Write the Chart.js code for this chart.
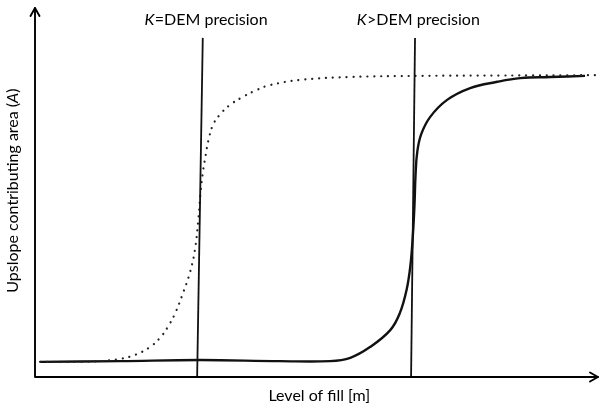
<!DOCTYPE html>
<html>
<head>
<meta charset="utf-8">
<script src="https://cdn.jsdelivr.net/npm/chart.js@4"></script>
<style>
  html, body { margin: 0; padding: 0; background: #fff; }
  #wrap { width: 601px; height: 410px; }
</style>
</head>
<body>
<div id="wrap"><canvas id="fillChart" width="601" height="410"></canvas></div>
<script>
// level of fill (x) and upslope area (y), both on a 0-100 schematic scale
const solidFill = [0.9, 15.1, 29.3, 43.5, 52.4, 56.0, 59.5, 63.1, 64.8, 66.0, 66.7, 67.1, 67.4, 67.6, 67.9, 68.6, 70.2, 73.2, 77.3, 82.1, 86.2, 91.5, 97.7];
const solidArea = [4.1, 4.3, 4.6, 4.3, 4.3, 5.2, 8.1, 12.7, 17.3, 23.6, 30.5, 38.0, 46.5, 55.0, 61.0, 65.8, 70.5, 75.1, 78.3, 80.0, 81.0, 81.3, 81.6];

const dottedFill = [0.9, 8.0, 11.6, 15.1, 17.8, 20.4, 22.2, 23.6, 24.9, 26.3, 27.5, 28.4, 29.0, 29.4, 29.8, 30.3, 30.9, 31.7, 32.9, 34.6, 36.9, 39.4, 41.7, 47.1, 56.0, 68.4, 82.6, 100];
const dottedArea = [4.1, 4.1, 4.3, 4.9, 6.0, 8.1, 10.6, 13.6, 17.3, 22.8, 28.2, 34.4, 42.6, 49.9, 55.3, 60.0, 64.8, 68.6, 71.2, 73.7, 75.9, 77.8, 79.1, 80.5, 81.3, 81.6, 81.7, 81.8];

// the two threshold lines: [bottom, top]
const equalFill = [28.8, 29.8];
const greaterFill = [66.8, 67.5];
const lineArea = [0, 91.9];

const thresholdLabels = [['K', '=DEM precision'], ['K', '>DEM precision']];
const xTitle = 'Level of fill [m]';
const yTitle = ['Upslope contributing area (', 'A', ')'];

const FONT = 'Lato, "Open Sans", sans-serif';

function toPoints(xs, ys) {
    return xs.map((x, i) => ({ x: x, y: ys[i] }));
}

// axes with open arrowheads, threshold labels and axis titles
const schematicAxes = {
    id: 'schematicAxes',
    afterDraw(chart) {
        const ctx = chart.ctx;
        const xs = chart.scales.x;
        const ys = chart.scales.y;
        const x0 = xs.getPixelForValue(0);
        const x1 = xs.getPixelForValue(100);
        const y0 = ys.getPixelForValue(0);
        const y1 = ys.getPixelForValue(100);

        ctx.save();
        ctx.strokeStyle = '#000';
        ctx.lineWidth = 1.9;
        ctx.lineCap = 'round';
        ctx.lineJoin = 'round';
        ctx.beginPath();
        ctx.moveTo(x0, y1);
        ctx.lineTo(x0, y0);
        ctx.lineTo(x1, y0);
        ctx.stroke();

        // arrowheads
        ctx.beginPath();
        ctx.moveTo(x0 - 4.5, y1 + 8);
        ctx.lineTo(x0, y1);
        ctx.lineTo(x0 + 4.5, y1 + 8);
        ctx.moveTo(x1 - 8, y0 - 4.5);
        ctx.lineTo(x1, y0);
        ctx.lineTo(x1 - 8, y0 + 4.5);
        ctx.stroke();

        ctx.fillStyle = '#000';
        ctx.textBaseline = 'alphabetic';

        // labels above the threshold lines
        const tops = [equalFill[1], greaterFill[1]];
        thresholdLabels.forEach((parts, i) => {
            ctx.font = 'italic 16px ' + FONT;
            const wK = ctx.measureText(parts[0]).width;
            ctx.font = '16px ' + FONT;
            const wRest = ctx.measureText(parts[1]).width;
            const cx = xs.getPixelForValue(tops[i]) + 3;
            const left = cx - (wK + wRest) / 2;
            const base = ys.getPixelForValue(lineArea[1]) - 13;
            ctx.font = 'italic 16px ' + FONT;
            ctx.fillText(parts[0], left, base);
            ctx.font = '16px ' + FONT;
            ctx.fillText(parts[1], left + wK + 0.5, base);
        });

        // x axis title
        ctx.font = '16px ' + FONT;
        ctx.textAlign = 'center';
        ctx.fillText(xTitle, xs.getPixelForValue(50.5), y0 + 24);

        // y axis title, rotated
        ctx.translate(x0 - 17, ys.getPixelForValue(50.5));
        ctx.rotate(-Math.PI / 2);
        ctx.textAlign = 'left';
        const widths = yTitle.map((t, i) => {
            ctx.font = (i === 1 ? 'italic ' : '') + '16px ' + FONT;
            return ctx.measureText(t).width;
        });
        let pos = -widths.reduce((a, b) => a + b, 0) / 2;
        yTitle.forEach((t, i) => {
            ctx.font = (i === 1 ? 'italic ' : '') + '16px ' + FONT;
            ctx.fillText(t, pos, 0);
            pos += widths[i];
        });
        ctx.restore();
    }
};

function initChart() {
    const ctx = document.getElementById('fillChart').getContext('2d');

    new Chart(ctx, {
        type: 'scatter',
        data: {
            datasets: [
                {
                    label: 'K=DEM precision',
                    data: toPoints(equalFill, lineArea),
                    showLine: true,
                    borderColor: '#111',
                    borderWidth: 1.8,
                    pointRadius: 0
                },
                {
                    label: 'K>DEM precision',
                    data: toPoints(greaterFill, lineArea),
                    showLine: true,
                    borderColor: '#111',
                    borderWidth: 1.8,
                    pointRadius: 0
                },
                {
                    label: 'fill at DEM precision',
                    data: toPoints(dottedFill, dottedArea),
                    showLine: true,
                    borderColor: '#222',
                    borderWidth: 2.2,
                    borderDash: [0.1, 6.8],
                    borderCapStyle: 'round',
                    tension: 0.4,
                    pointRadius: 0
                },
                {
                    label: 'fill above DEM precision',
                    data: toPoints(solidFill, solidArea),
                    showLine: true,
                    borderColor: '#111',
                    borderWidth: 2.4,
                    tension: 0.4,
                    pointRadius: 0
                }
            ]
        },
        options: {
            responsive: false,
            animation: false,
            layout: { padding: { left: 35, right: 3, top: 8, bottom: 33 } },
            plugins: {
                legend: { display: false },
                tooltip: { enabled: false }
            },
            scales: {
                x: { type: 'linear', min: 0, max: 100, display: false },
                y: { type: 'linear', min: 0, max: 100, display: false }
            }
        },
        plugins: [schematicAxes]
    });
}

initChart();
</script>
</body>
</html>
